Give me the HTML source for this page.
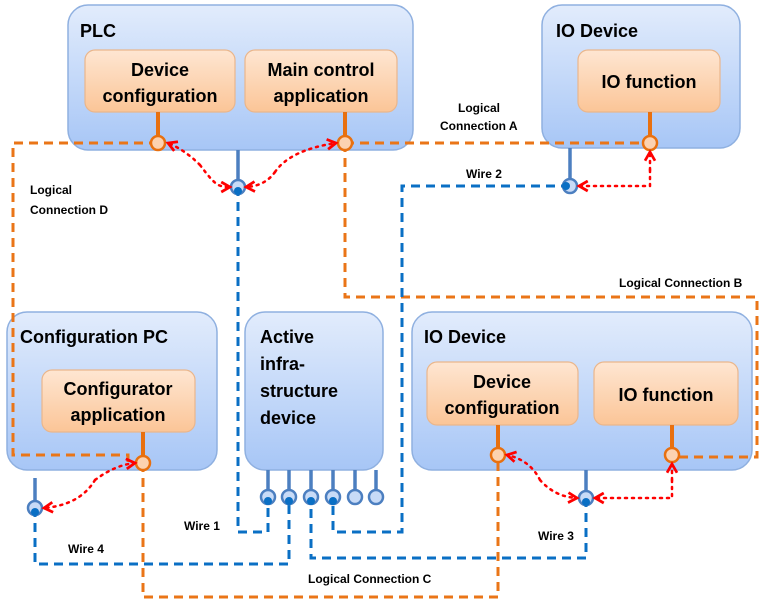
<!DOCTYPE html>
<html><head><meta charset="utf-8"><style>
html,body{margin:0;padding:0;background:#fff;}
svg{display:block;font-family:"Liberation Sans",sans-serif;}
</style></head><body>
<svg width="765" height="600" viewBox="0 0 765 600" xmlns="http://www.w3.org/2000/svg">
<defs>
<linearGradient id="bg" x1="0" y1="0" x2="0" y2="1"><stop offset="0" stop-color="#e2ecfc"/><stop offset="1" stop-color="#a7c6f6"/></linearGradient>
<linearGradient id="og" x1="0" y1="0" x2="0" y2="1"><stop offset="0" stop-color="#fee6d2"/><stop offset="1" stop-color="#fbc597"/></linearGradient>
<marker id="ar" viewBox="0 0 10 10" refX="8" refY="5" markerWidth="5" markerHeight="5" orient="auto"><path d="M1 1 L8 5 L1 9" fill="none" stroke="#f00" stroke-width="2.2"/></marker>
</defs>
<g stroke="#8fb0e0" stroke-width="1.5" fill="url(#bg)">
<rect x="68" y="5" width="345" height="145" rx="20"/>
<rect x="542" y="5" width="198" height="143" rx="20"/>
<rect x="7" y="312" width="210" height="158" rx="20"/>
<rect x="245" y="312" width="138" height="158" rx="20"/>
<rect x="412" y="312" width="340" height="158" rx="20"/>
</g>
<g stroke="#eab68c" stroke-width="1.2" fill="url(#og)">
<rect x="85" y="50" width="150" height="62" rx="10"/>
<rect x="245" y="50" width="152" height="62" rx="10"/>
<rect x="578" y="50" width="142" height="62" rx="10"/>
<rect x="42" y="370" width="153" height="62" rx="10"/>
<rect x="427" y="362" width="151" height="63" rx="10"/>
<rect x="594" y="362" width="144" height="63" rx="10"/>
</g>
<g font-weight="bold" font-size="18" fill="#000">
<text x="80" y="37">PLC</text>
<text x="556" y="37">IO Device</text>
<text x="20" y="343">Configuration PC</text>
<text x="424" y="343">IO Device</text>
<text x="260" y="343">Active</text><text x="260" y="370">infra-</text><text x="260" y="397">structure</text><text x="260" y="424">device</text>
<g text-anchor="middle">
<text x="160" y="76">Device</text><text x="160" y="102">configuration</text>
<text x="321" y="76">Main control</text><text x="321" y="102">application</text>
<text x="649" y="88">IO function</text>
<text x="118" y="395">Configurator</text><text x="118" y="421">application</text>
<text x="502" y="388">Device</text><text x="502" y="414">configuration</text>
<text x="666" y="401">IO function</text>
</g></g>
<g font-weight="bold" font-size="12" fill="#000">
<text x="458" y="112">Logical</text><text x="440" y="130">Connection A</text>
<text x="30" y="194">Logical</text><text x="30" y="214">Connection D</text>
<text x="466" y="178">Wire 2</text>
<text x="619" y="287">Logical Connection B</text>
<text x="184" y="530">Wire 1</text>
<text x="68" y="553">Wire 4</text>
<text x="538" y="540">Wire 3</text>
<text x="308" y="583">Logical Connection C</text>
</g>
<!-- orange dashed -->
<g fill="none" stroke="#ea7517" stroke-width="3" stroke-dasharray="9,6">
<path d="M158 143 H13 V455 H128 V462"/>
<path d="M345 143 H650"/>
<path d="M345 143 V297 H757 V457 H672"/>
<path d="M143 463 V597 H498 V455"/>
</g>
<!-- blue dashed -->
<g fill="none" stroke="#0a6fc4" stroke-width="3" stroke-dasharray="9,6">
<path d="M238 187 V532 H268 V497"/>
<path d="M570 186 H402 V532 H333 V497"/>
<path d="M35 508 V564 H289 V497"/>
<path d="M586 498 V558 H311 V497"/>
</g>
<!-- stems -->
<g stroke="#e8700f" stroke-width="4">
<line x1="158" y1="112" x2="158" y2="143"/><line x1="345" y1="112" x2="345" y2="143"/>
<line x1="650" y1="112" x2="650" y2="143"/><line x1="143" y1="432" x2="143" y2="463"/>
<line x1="498" y1="425" x2="498" y2="455"/><line x1="672" y1="425" x2="672" y2="455"/>
</g>
<g stroke="#4c7fc0" stroke-width="3.5">
<line x1="238" y1="150" x2="238" y2="187"/><line x1="570" y1="148" x2="570" y2="186"/>
<line x1="35" y1="478" x2="35" y2="508"/><line x1="586" y1="470" x2="586" y2="498"/>
<line x1="268" y1="470" x2="268" y2="497"/><line x1="289" y1="470" x2="289" y2="497"/>
<line x1="311" y1="470" x2="311" y2="497"/><line x1="333" y1="470" x2="333" y2="497"/>
<line x1="355" y1="470" x2="355" y2="497"/><line x1="376" y1="470" x2="376" y2="497"/>
</g>
<!-- ports -->
<g stroke="#e8700f" stroke-width="2.5" fill="#fcd2b0">
<circle cx="158" cy="143" r="7"/><circle cx="345" cy="143" r="7"/><circle cx="650" cy="143" r="7"/>
<circle cx="143" cy="463" r="7"/><circle cx="498" cy="455" r="7"/><circle cx="672" cy="455" r="7"/>
</g>
<g stroke="#4c7fc0" stroke-width="2.5" fill="#c8dbf7">
<circle cx="238" cy="187" r="7"/><circle cx="570" cy="186" r="7"/><circle cx="35" cy="508" r="7"/><circle cx="586" cy="498" r="7"/>
<circle cx="268" cy="497" r="7"/><circle cx="289" cy="497" r="7"/><circle cx="311" cy="497" r="7"/><circle cx="333" cy="497" r="7"/><circle cx="355" cy="497" r="7"/><circle cx="376" cy="497" r="7"/>
</g>
<g fill="#0a6fc4"><circle cx="238" cy="191" r="4"/><circle cx="566" cy="186" r="4"/><circle cx="35" cy="512" r="4"/><circle cx="586" cy="502" r="4"/>
<circle cx="268" cy="501" r="4"/><circle cx="289" cy="501" r="4"/><circle cx="311" cy="501" r="4"/><circle cx="333" cy="501" r="4"/></g>
<!-- red dotted -->
<g fill="none" stroke="#f00" stroke-width="2.5" stroke-dasharray="2,5" stroke-linecap="round">
<path d="M200 165 C 215 185 218 187 230 187" marker-end="url(#ar)"/>
<path d="M200 165 Q 185 150 168 143" marker-end="url(#ar)"/>
<path d="M275 172 Q 265 186 246 187" marker-end="url(#ar)"/>
<path d="M275 172 Q 290 150 336 143" marker-end="url(#ar)"/>
<path d="M650 170 V152" marker-end="url(#ar)"/>
<path d="M650 170 V186 H579" marker-end="url(#ar)"/>
<path d="M95 480 Q 115 465 135 463" marker-end="url(#ar)"/>
<path d="M95 480 Q 80 505 44 508" marker-end="url(#ar)"/>
<path d="M540 480 Q 530 460 507 455" marker-end="url(#ar)"/>
<path d="M540 480 Q 555 497 577 498" marker-end="url(#ar)"/>
<path d="M672 480 V464" marker-end="url(#ar)"/>
<path d="M672 480 V498 H595" marker-end="url(#ar)"/>
</g>
</svg>
</body></html>
